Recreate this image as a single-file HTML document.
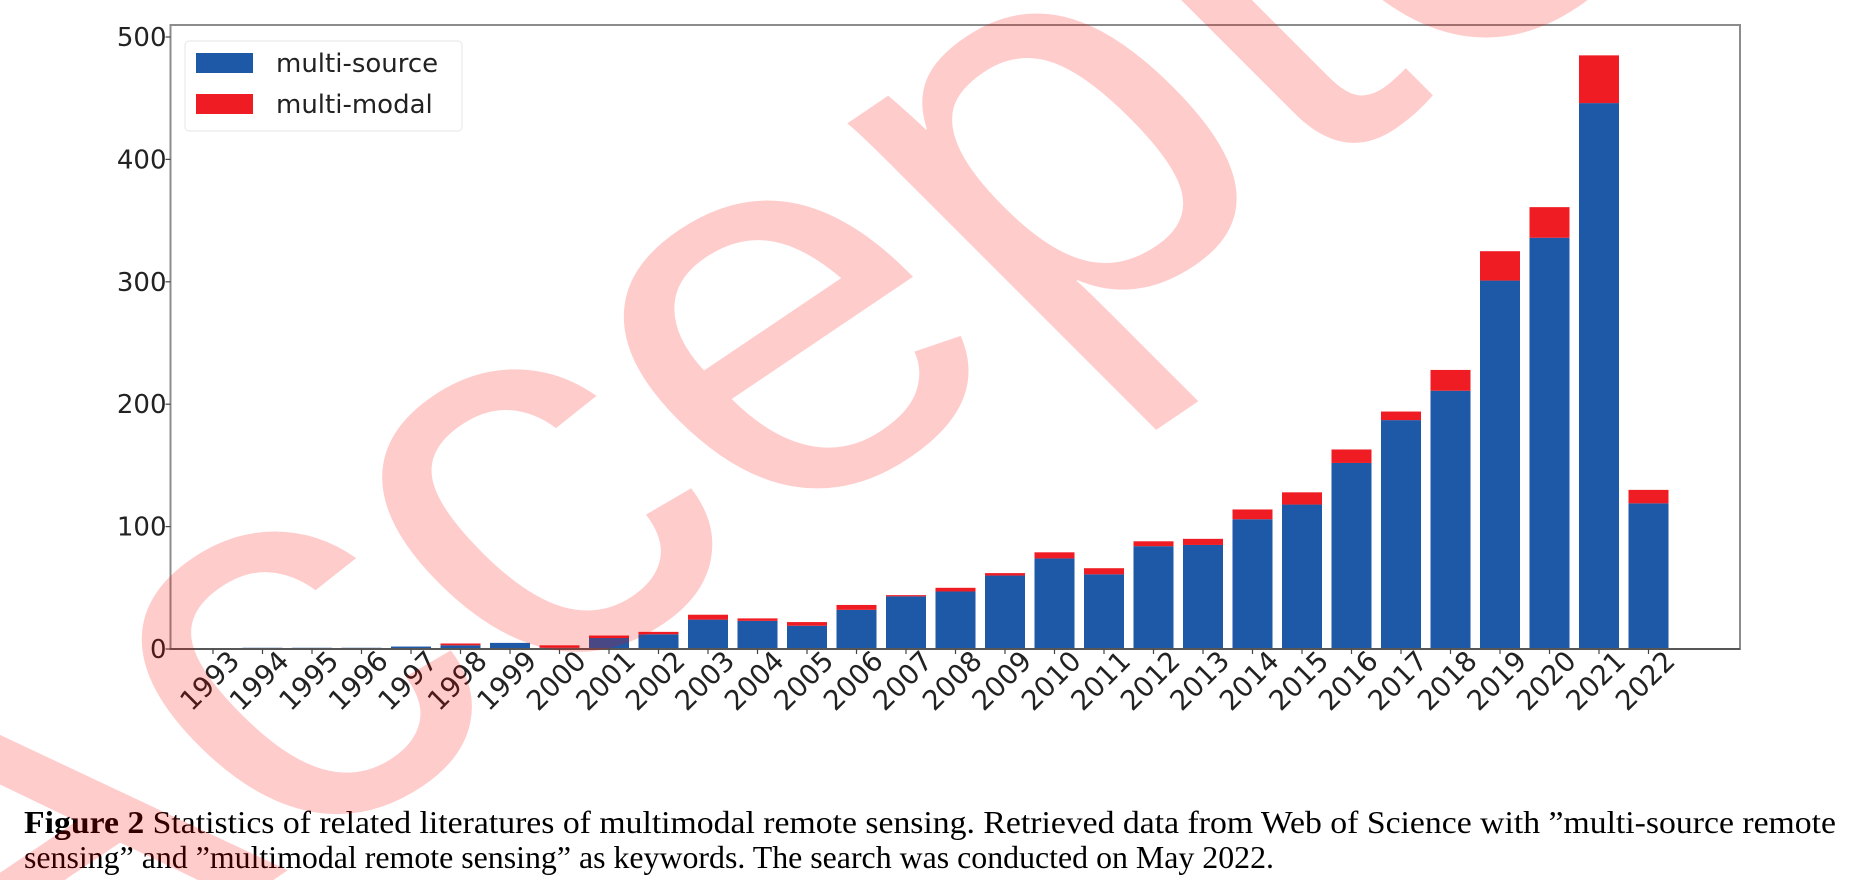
<!DOCTYPE html>
<html><head><meta charset="utf-8"><style>
html,body{margin:0;padding:0;background:#fff;width:1858px;height:880px;overflow:hidden}
svg{display:block}
</style></head><body>
<svg id="chart" width="1858" height="880" viewBox="0 0 1858 880" xmlns="http://www.w3.org/2000/svg">
<g id="bars"></g>
<g id="axes"></g>
<g id="legend">
  <rect x="185" y="41" width="277" height="90" rx="4" fill="#fff" fill-opacity="0.8" stroke="#e6e6e6" stroke-width="1"/>
  <rect x="196" y="53" width="57" height="20" fill="#1d59a7"/>
  <text x="276" y="72" font-family="DejaVu Sans, sans-serif" font-size="26" fill="#222">multi-source</text>
  <rect x="196" y="94" width="57" height="20" fill="#ef1c24"/>
  <text x="276" y="113" font-family="DejaVu Sans, sans-serif" font-size="26" fill="#222">multi-modal</text>
</g>
<g font-family="Liberation Serif, serif" font-size="32" fill="#000">
  <text x="24" y="833" textLength="1812" lengthAdjust="spacingAndGlyphs"><tspan font-weight="bold">Figure 2</tspan>   Statistics of related literatures of multimodal remote sensing.  Retrieved data from Web of Science with ”multi-source remote</text>
  <text x="24" y="868" textLength="1250" lengthAdjust="spacingAndGlyphs">sensing” and ”multimodal remote sensing” as keywords. The search was conducted on May 2022.</text>
</g>
<text transform="translate(-32,1086) rotate(-34) skewX(11)" font-family="Liberation Sans, sans-serif" font-size="580" fill="#ff0000" fill-opacity="0.2">Accepted</text>
</svg>
<script>
const years = ['1993','1994','1995','1996','1997','1998','1999','2000','2001','2002','2003','2004','2005','2006','2007','2008','2009','2010','2011','2012','2013','2014','2015','2016','2017','2018','2019','2020','2021','2022'];
const multiSource = [0,1,1,1,2,3,5,1,9,12,24,23,19,32,43,47,60,74,61,84,85,106,118,152,187,211,301,336,446,119];
const multiModal = [0,0,0,0,0,1.5,0,2,2,2,4,2,3,4,1,3,2,5,5,4,5,8,10,11,7,17,24,25,39,11];
const yTicks = [0,100,200,300,400,500];

const NS='http://www.w3.org/2000/svg';
const L=170.5,R=1740,T=25,B=649;
const x0=213,step=49.5,bw=40;
function xPos(i){return x0+i*step;}
function yPos(v){return B-v*1.224;}
function mk(tag,attrs,parent){const e=document.createElementNS(NS,tag);for(const k in attrs)e.setAttribute(k,attrs[k]);parent.appendChild(e);return e;}

const bars=document.getElementById('bars');
years.forEach((yr,i)=>{
  const cx=xPos(i);
  const s=multiSource[i], m=multiModal[i];
  const b=mk('rect',{x:cx-bw/2,y:yPos(s),width:bw,height:yPos(0)-yPos(s),fill:'#1d59a7'},bars);
  
  
  const r=mk('rect',{x:cx-bw/2,y:yPos(s+m),width:bw,height:yPos(s)-yPos(s+m),fill:'#ef1c24'},bars);
  
  
});

const ax=document.getElementById('axes');
const frame=mk('rect',{x:L,y:T,width:R-L,height:B-T,fill:'none',stroke:'#8c8c8c','stroke-width':2},ax);


mk('line',{x1:L,y1:B,x2:R,y2:B,stroke:'#444','stroke-width':1.5},ax);
yTicks.forEach(v=>{
  const y=yPos(v);
  mk('line',{x1:L-5,y1:y,x2:L,y2:y,stroke:'#444','stroke-width':1.2},ax);
  const t=mk('text',{x:L-4,y:y+9,'text-anchor':'end','font-family':'DejaVu Sans, sans-serif','font-size':26,fill:'#222'},ax);
  t.textContent=v;
  
  
});
years.forEach((yr,i)=>{
  const x=xPos(i);
  mk('line',{x1:x,y1:B,x2:x,y2:B+5,stroke:'#444','stroke-width':1.2},ax);
  const t=mk('text',{x:0,y:0,'text-anchor':'middle','dominant-baseline':'central',transform:`translate(${x-3},${B+32}) rotate(-45)`,'font-family':'DejaVu Sans, sans-serif','font-size':27.5,fill:'#222'},ax);
  t.textContent=yr;
  
  
});
</script>
</body></html>
